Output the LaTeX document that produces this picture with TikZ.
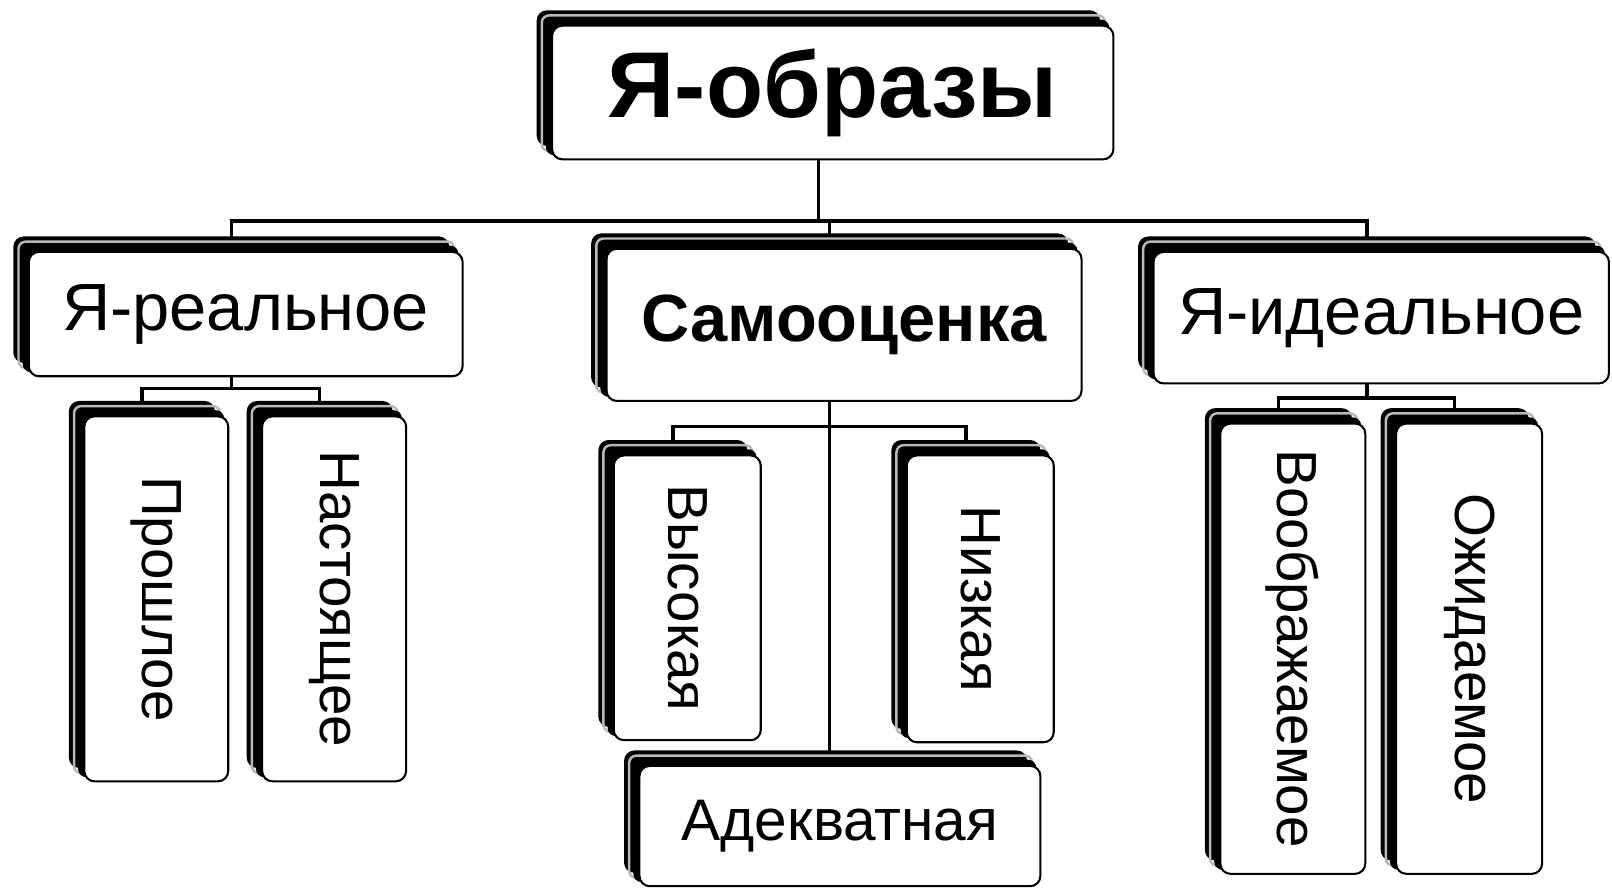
\documentclass[tikz,border=0pt]{standalone}
\usepackage{fontspec}
\setmainfont{Liberation Sans}
\usetikzlibrary{backgrounds,calc}
\newcommand\backshadow[1]{%
  \fill[black, rounded corners=10pt] ($(#1.south west)+(-14,-14)$) rectangle ($(#1.north east)+(-14,-14)$);
  \draw[gray!55, line width=2.4pt, rounded corners=7pt] ($(#1.south west)+(-9,-9)$) rectangle ($(#1.north east)+(-9,-9)$);
  \fill[black, rounded corners=8pt] ($(#1.south west)+(-5,-5)$) rectangle ($(#1.north east)+(-5,-5)$);
}
\begin{document}
\begin{tikzpicture}[x=1pt,y=-1pt,
  box/.style={draw=black, line width=2pt, fill=white, rounded corners=10pt, inner sep=0pt, align=center},
  conn/.style={line width=3.4pt, black},
  bigtitle/.style={font=\fontsize{91}{91}\selectfont\bfseries},
  boldlabel/.style={font=\fontsize{65}{65}\selectfont\bfseries},
  hlabel/.style={font=\fontsize{65}{65}\selectfont},
  alabel/.style={font=\fontsize{57}{57}\selectfont},
  vlabel/.style={font=\fontsize{55}{55}\selectfont},
]
\useasboundingbox (0,0) rectangle (1568,864);

% front boxes
\node[box, bigtitle, minimum width=546pt, minimum height=130pt] (top) at (810,90) {Я-образы};
\node[box, hlabel, minimum width=422pt, minimum height=121pt] (real) at (239,305.5) {Я-реальное};
\node[box, boldlabel, minimum width=462pt, minimum height=148pt] (self) at (821,316) {Самооценка};
\node[box, hlabel, minimum width=443pt, minimum height=128pt] (ideal) at (1343.5,309) {Я-идеальное};
\node[box, vlabel, minimum width=140pt, minimum height=355pt] (past) at (152,582.5) {\rotatebox{-90}{Прошлое}};
\node[box, vlabel, minimum width=140pt, minimum height=355pt] (pres) at (325,582.5) {\rotatebox{-90}{Настоящее}};
\node[box, vlabel, minimum width=143pt, minimum height=277pt] (high) at (668.5,581.5) {\rotatebox{-90}{Высокая}};
\node[box, vlabel, minimum width=143pt, minimum height=279pt] (low) at (953.5,582.5) {\rotatebox{-90}{Низкая}};
\node[box, alabel, minimum width=390pt, minimum height=117pt] (adeq) at (817,803.5) {Адекватная};
\node[box, vlabel, minimum width=141pt, minimum height=438pt] (imag) at (1257.5,631) {\rotatebox{-90}{Воображаемое}};
\node[box, vlabel, minimum width=142pt, minimum height=438pt] (expd) at (1429,631) {\rotatebox{-90}{Ожидаемое}};

% connector points (centres of the back shadows)
\foreach \n in {top,real,self,ideal,past,pres,high,low,adeq,imag,expd}{
  \coordinate (\n n) at ($(\n.north)+(-14,0)$);
  \coordinate (\n s) at ($(\n.south)+(-14,-20)$);
}
\coordinate (bus1) at (0,215);
\coordinate (bus2) at (0,378);
\coordinate (bus3) at (0,415);
\coordinate (bus4) at (0,387);

\begin{scope}[on background layer]
  \fill[white] (0,0) rectangle (1568,864);
  \draw[conn] (tops) -- (tops |- bus1);
  \draw[conn] (realn) -- (realn |- bus1) -- (idealn |- bus1) -- (idealn);
  \draw[conn] (selfn) -- (selfn |- bus1);
  \draw[conn] (reals) -- (reals |- bus2);
  \draw[conn] (pastn) -- (pastn |- bus2) -- (presn |- bus2) -- (presn);
  \draw[conn] (selfs) -- (selfs |- adeqn);
  \draw[conn] (highn) -- (highn |- bus3) -- (lown |- bus3) -- (lown);
  \draw[conn] (ideals) -- (ideals |- bus4);
  \draw[conn] (imagn) -- (imagn |- bus4) -- (expdn |- bus4) -- (expdn);
  \foreach \n in {top,real,self,ideal,past,pres,high,low,adeq,imag,expd}{
    \backshadow{\n}
  }
\end{scope}
\end{tikzpicture}
\end{document}
